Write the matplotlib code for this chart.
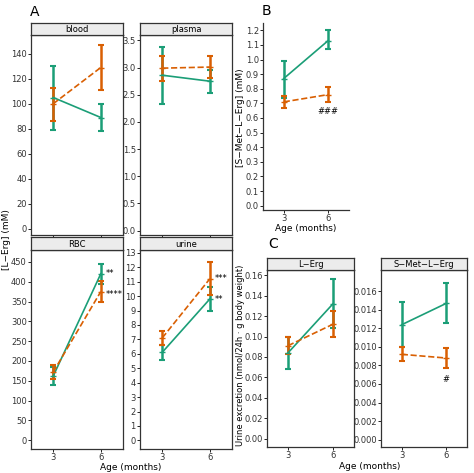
import matplotlib.pyplot as plt
import numpy as np

W, H = 474, 473
GREEN = "#1b9e77"
ORANGE = "#d95f02"
AGES = [3, 6]

# mean, low, high for each group (green = solid, orange = dashed)
blood_g = ([105, 89], [79, 78], [130, 100])
blood_o = ([100, 129], [86, 111], [113, 147])
plasma_g = ([2.86, 2.75], [2.33, 2.54], [3.38, 2.95])
plasma_o = ([2.99, 3.01], [2.76, 2.80], [3.22, 3.21])
rbc_g = ([162, 420], [140, 395], [185, 445])
rbc_o = ([172, 375], [155, 348], [190, 402])
urine_g = ([6.1, 9.8], [5.6, 9.0], [6.6, 10.6])
urine_o = ([7.1, 11.2], [6.6, 10.1], [7.6, 12.4])
smet_g = ([0.87, 1.13], [0.74, 1.07], [0.99, 1.20])
smet_o = ([0.71, 0.76], [0.67, 0.71], [0.75, 0.81])
uerg_g = ([0.084, 0.132], [0.068, 0.108], [0.100, 0.156])
uerg_o = ([0.091, 0.112], [0.083, 0.100], [0.100, 0.125])
usmet_g = ([0.0124, 0.0147], [0.0100, 0.0126], [0.0148, 0.0169])
usmet_o = ([0.0092, 0.0088], [0.0085, 0.0077], [0.0100, 0.0099])

fig = plt.figure(figsize=(W / 100, H / 100), dpi=100)
FS = 6


def px_axes(x0, y0, x1, y1):
    return fig.add_axes([x0 / W, 1 - y1 / H, (x1 - x0) / W, (y1 - y0) / H])


def draw(ax, g, o, ylim, yticks, fmt="{:g}", xlabels=True):
    for d, c, ls in ((g, GREEN, "-"), (o, ORANGE, "--")):
        m, lo, hi = (np.array(v) for v in d)
        ax.errorbar(AGES, m, yerr=[m - lo, hi - m], color=c, ls=ls, lw=1.2,
                    elinewidth=1.8, capsize=2.5, capthick=1.5, marker="_", ms=4)
    ax.set_xlim(1.6, 7.4)
    ax.set_ylim(*ylim)
    ax.set_yticks(yticks)
    ax.set_yticklabels([fmt.format(v) for v in yticks], fontsize=FS, color="#333333")
    ax.set_xticks(AGES)
    ax.set_xticklabels(["3", "6"] if xlabels else [], fontsize=FS, color="#333333")
    ax.tick_params(length=2, pad=1, width=0.6)
    for s in ax.spines.values():
        s.set_linewidth(0.9)
        s.set_color("#333333")


def strip(x0, x1, y0, y1, text):
    s = px_axes(x0, y0, x1, y1)
    s.set_facecolor("#ececec")
    s.set_xticks([])
    s.set_yticks([])
    for sp in s.spines.values():
        sp.set_linewidth(0.9)
        sp.set_color("#333333")
    s.text(0.5, 0.45, text, ha="center", va="center", fontsize=FS)


# Panel A
ax = px_axes(31, 35, 123, 235)
draw(ax, blood_g, blood_o, (-5, 155), range(0, 141, 20), xlabels=False)
strip(31, 123, 23, 35, "blood")
ax = px_axes(140, 35, 232, 235)
draw(ax, plasma_g, plasma_o, (-0.08, 3.6), np.arange(0, 3.51, 0.5), "{:.1f}", xlabels=False)
strip(140, 232, 23, 35, "plasma")
ax = px_axes(31, 250, 123, 449)
draw(ax, rbc_g, rbc_o, (-22, 480), range(0, 451, 50))
ax.text(6.3, 420, "**", fontsize=FS, va="center")
ax.text(6.3, 368, "****", fontsize=FS, va="center")
strip(31, 123, 237, 250, "RBC")
ax = px_axes(140, 250, 232, 449)
draw(ax, urine_g, urine_o, (-0.6, 13.2), range(0, 14))
ax.text(6.3, 11.2, "***", fontsize=FS, va="center")
ax.text(6.3, 9.8, "**", fontsize=FS, va="center")
strip(140, 232, 237, 250, "urine")
fig.text(2 / W, 1 - 240 / H, "[L\u2212Erg] (mM)", rotation=90, fontsize=6.5, va="center")
fig.text(131 / W, 1 - 467 / H, "Age (months)", fontsize=6.5, ha="center", va="center")
fig.text(30 / W, 1 - 12 / H, "A", fontsize=10, va="center")

# Panel B
ax = px_axes(263, 23, 349, 210)
draw(ax, smet_g, smet_o, (-0.03, 1.25), np.arange(0, 1.21, 0.1), "{:.1f}")
ax.spines["top"].set_visible(False)
ax.spines["right"].set_visible(False)
ax.text(6, 0.645, "###", fontsize=FS, ha="center", va="center")
fig.text(236 / W, 1 - 118 / H, "[S\u2212Met\u2212L\u2212Erg] (mM)", rotation=90, fontsize=6.5, va="center")
fig.text(306 / W, 1 - 228 / H, "Age (months)", fontsize=6.5, ha="center", va="center")
fig.text(262 / W, 1 - 11 / H, "B", fontsize=10, va="center")

# Panel C
ax = px_axes(267, 270, 354, 447)
draw(ax, uerg_g, uerg_o, (-0.008, 0.165), np.arange(0, 0.161, 0.02), "{:.2f}")
strip(267, 354, 258, 270, "L\u2212Erg")
ax = px_axes(381, 270, 467, 447)
draw(ax, usmet_g, usmet_o, (-0.0008, 0.0183), np.arange(0, 0.0161, 0.002), "{:.3f}")
ax.text(6, 0.0065, "#", fontsize=FS, ha="center", va="center")
strip(381, 467, 258, 270, "S\u2212Met\u2212L\u2212Erg")
fig.text(236 / W, 1 - 355 / H, "Urine excretion (nmol/24h \u00b7 g body weight)", rotation=90,
         fontsize=6, va="center")
fig.text(370 / W, 1 - 466 / H, "Age (months)", fontsize=6.5, ha="center", va="center")
fig.text(268 / W, 1 - 244 / H, "C", fontsize=10, va="center")

fig.savefig("out.png", dpi=100)
